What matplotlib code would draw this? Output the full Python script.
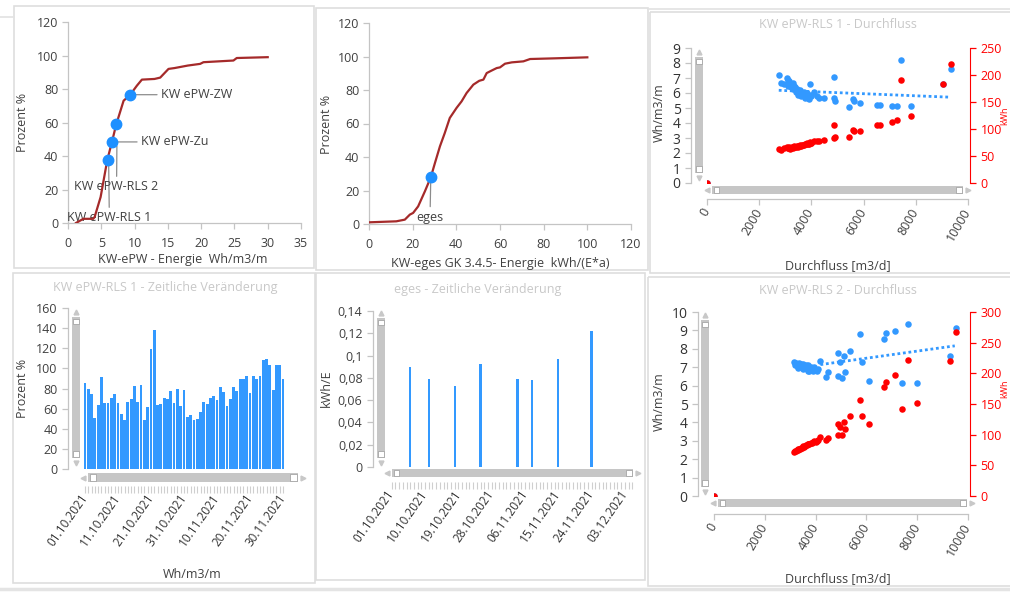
import matplotlib
matplotlib.use("Agg")
import matplotlib.pyplot as plt
import matplotlib.dates as mdates
import pandas as pd
from matplotlib.patches import Rectangle
from matplotlib.lines import Line2D
from matplotlib.transforms import Affine2D

W, H = 1010, 592

# --- KW-ePW cumulative curve (top left)
epw_x = [1.2, 2.3, 3.8, 4.0, 4.9, 5.9, 6.6, 7.25, 8.35, 9.35, 10.35, 11.1, 13.0,
         13.85, 15.1, 16.0, 18.0, 19.85, 20.35, 24.85, 25.35, 30.0]
epw_y = [0, 2.5, 2.5, 3.6, 15.5, 37.6, 48.4, 58.9, 73, 76.6, 82, 85.6, 86,
         86.8, 92, 92.5, 94, 95, 96, 97, 98.5, 99]
epw_pts_x = [5.95, 6.6, 7.25, 9.35]
epw_pts_y = [37.6, 48.4, 58.9, 76.6]
epw_names = ["KW ePW-RLS 1", "KW ePW-Zu", "KW ePW-RLS 2", "KW ePW-ZW"]

# --- KW-eges cumulative curve (top middle)
eges_x = [0, 12.5, 16.4, 18.7, 20.2, 22.5, 25.6, 28.3, 30.2, 32.5, 34.7, 37.0, 40.1,
          42.4, 44.7, 47.8, 50.5, 52.4, 53.9, 56.0, 58.5, 60.0, 62.3, 65.4, 70.7,
          73.8, 85.0, 100.0]
eges_y = [1, 1.6, 2.6, 5.6, 6.6, 10.5, 19.5, 27.9, 36.4, 46.4, 54.3, 63.3, 69.3,
          73.2, 78.2, 83.2, 85.5, 86.2, 90.1, 91.5, 93.1, 93.5, 95.7, 96.5, 97.1,
          98.5, 98.9, 99.5]
eges_pt_x = [28.3]
eges_pt_y = [27.9]

# --- RLS 1 Durchfluss (top right)
flow1 = [2750, 2850, 2950, 3050, 3100, 3150, 3200, 3250, 3300, 3350,
         3400, 3450, 3500, 3550, 3600, 3650, 3700, 3750, 3800, 3850,
         3900, 3950, 4000, 4100, 4200, 4300, 4500, 4850, 4880, 4900,
         5440, 5610, 5650, 5860, 6520, 6620, 7070, 7290, 7450, 7830,
         9045, 9340, 0, 3120, 3180, 3280, 3380, 3480, 3580, 3680,
         3780, 3880, 3980]
wh1 = [7.2, 6.7, 6.6, 7.0, 6.5, 6.8, 6.4, 6.6, 6.3, 6.5,
       6.1, 6.3, 5.9, 6.2, 5.8, 6.0, 6.1, 5.7, 5.9, 6.0,
       5.6, 6.6, 5.8, 6.1, 5.8, 5.7, 5.7, 5.7, 7.07, 5.5,
       5.1, 5.6, 5.45, 5.35, 5.2, 5.2, 5.15, 5.15, 8.2, 5.15,
       6.6, 7.6, 0, 6.9, 6.6, 6.7, 6.4, 6.1, 6.0, 5.9,
       5.9, 5.7, 5.9]
kw1 = [63, 62, 64, 66, 64, 66, 65, 67, 66, 68,
       67, 68, 68, 70, 69, 71, 71, 72, 72, 74,
       73, 76, 75, 77, 78, 78, 80, 84, 107, 86,
       86, 99, 97, 97, 107, 108, 113, 116, 190, 125,
       184, 220, 0, 64, 63, 65, 66, 67, 69, 70,
       72, 73, 75]
trend1_x = [2750, 9340]
trend1_y = [6.18, 5.72]

# --- RLS 2 Durchfluss (bottom right)
flow2 = [3150, 3200, 3220, 3250, 3300, 3320, 3350, 3400, 3420, 3450,
         3500, 3520, 3550, 3600, 3620, 3650, 3700, 3720, 3750, 3800,
         3850, 3900, 3950, 4000, 4050, 4100, 4186, 4423, 4488, 4882,
         4882, 4948, 5039, 5144, 5118, 5341, 5735, 5827, 6089, 6680,
         6785, 7113, 7415, 7638, 8005, 9278, 9541, 0]
wh2 = [7.3, 7.1, 7.25, 7.2, 7.0, 6.95, 7.25, 7.1, 7.2, 7.0,
       7.15, 6.9, 6.95, 7.05, 7.1, 6.9, 7.1, 6.8, 6.8, 7.0,
       6.9, 6.8, 7.0, 6.85, 6.8, 6.9, 7.34, 6.47, 6.74, 7.78,
       6.5, 7.29, 6.44, 6.74, 7.6, 7.87, 8.82, 7.29, 6.24, 8.55,
       8.86, 8.95, 6.15, 9.37, 6.15, 7.61, 9.15, 0]
kw2 = [72, 73, 74, 75, 75, 76, 77, 77, 78, 79,
       80, 81, 80, 82, 83, 83, 84, 85, 85, 86,
       86, 88, 89, 88, 90, 91, 97, 91, 94, 118,
       99, 113, 100, 109, 121, 131, 157, 131, 118, 177,
       186, 197, 142, 221, 152, 220, 268, 0]
trend2_x = [4190, 9480]
trend2_y = [7.14, 8.16]

# --- RLS 1 zeitliche Veraenderung (bottom left)
days4 = pd.date_range("2021-10-01", "2021-11-30", freq="D")
vals4 = [85.8, 80, 74.6, 50.5, 63.4, 91.7, 65.3, 65.3, 70.3, 74.3,
         65.3, 54.8, 48.2, 67, 69.3, 82.8, 66.3, 83.5, 48.8, 62,
         118.8, 138, 63.4, 64.4, 71, 69.3, 78, 66, 79.5, 63,
         78.5, 52, 53.8, 48.8, 49.5, 57, 67, 64.4, 70.3, 73,
         68.6, 81.8, 76.9, 62.7, 69.6, 81.8, 77.9, 89, 89.4, 92.4,
         75.2, 92.4, 89, 92.4, 108, 109.5, 103.3, 78.5, 103.3, 103.3,
         89.4]

# --- eges zeitliche Veraenderung (bottom middle)
days5 = pd.to_datetime(["2021-10-06", "2021-10-11", "2021-10-18", "2021-10-25",
                        "2021-11-04", "2021-11-08", "2021-11-15", "2021-11-24"])
vals5 = [0.0897, 0.0793, 0.0724, 0.0927, 0.0793, 0.0784, 0.0966, 0.1217]
ticks5 = pd.date_range("2021-10-01", "2021-12-03", freq="9D")
yticks5 = [0, 0.02, 0.04, 0.06, 0.08, 0.10, 0.12, 0.14]
ylabels5 = ["0", "0,02", "0,04", "0,06", "0,08", "0,1", "0,12", "0,14"]

DARKRED = "#a52a2a"
BLUE = "#3399ff"
RED = "#ff0000"
AXGREY = "#c4c4c4"
TXT = "#404040"
TITLE = "#c8c8c8"

plt.rcParams["font.family"] = ["Open Sans", "DejaVu Sans"]
fig = plt.figure(figsize=(W / 100, H / 100), dpi=100)
T = Affine2D().scale(1 / W, -1 / H).translate(0, 1) + fig.transFigure


def add_ax(x0, y0, x1, y1):
    return fig.add_axes([x0 / W, 1 - y1 / H, (x1 - x0) / W, (y1 - y0) / H])


def ptext(x, y, s, **kw):
    kw.setdefault("ha", "center")
    kw.setdefault("va", "center")
    kw.setdefault("color", TXT)
    kw.setdefault("fontsize", 9)
    return fig.text(x, y, s, transform=T, **kw)


def frame(x0, y0, x1, y1, c="#dedede"):
    fig.add_artist(Rectangle((x0, y0), x1 - x0, y1 - y0, transform=T,
                             fill=False, ec=c, lw=1.2))


def scroll(x0, y0, x1, y1):
    fig.add_artist(Rectangle((x0, y0), x1 - x0, y1 - y0, transform=T,
                             fc="#c6c6c6", ec="none"))
    s = min(x1 - x0, y1 - y0) - 2.5
    if (y1 - y0) > (x1 - x0):
        spots = [(x0 + 1.2, y0 + 1.5), (x0 + 1.2, y1 - 1.5 - s)]
        cx = (x0 + x1) / 2
        arrows = [(cx, y0 - 5, "^"), (cx, y1 + 5, "v")]
    else:
        spots = [(x0 + 1.5, y0 + 1.2), (x1 - 1.5 - s, y0 + 1.2)]
        cy = (y0 + y1) / 2
        arrows = [(x0 - 5, cy, "<"), (x1 + 5, cy, ">")]
    for sx, sy in spots:
        fig.add_artist(Rectangle((sx, sy), s, s, transform=T, fc="white",
                                 ec="#9a9a9a", lw=0.5))
    for ax_, ay_, m in arrows:
        fig.add_artist(Line2D([ax_], [ay_], transform=T, marker=m, ms=3.5,
                              color="#c8c8c8", ls="none"))


def base_style(ax, labelsize=9):
    ax.spines["top"].set_visible(False)
    ax.spines["right"].set_visible(False)
    for s in ["left", "bottom"]:
        ax.spines[s].set_color(AXGREY)
        ax.spines[s].set_linewidth(0.9)
    ax.tick_params(colors=AXGREY, labelcolor=TXT, length=4, width=0.9,
                   labelsize=labelsize)
    ax.patch.set_alpha(0)


# panel frames and separators
frame(14, 6, 314, 268)
frame(316, 8, 648, 270)
frame(650, 12, 1015, 273)
frame(13, 273, 315, 583)
frame(316, 273, 645, 580)
frame(648, 277, 1015, 586)
fig.add_artist(Line2D([0, 14 / W], [1 - 17 / H] * 2, color="#e2e2e2", lw=1.2))
fig.add_artist(Line2D([648 / W, 1], [1 - 9 / H] * 2, color="#e2e2e2", lw=1.2))
fig.add_artist(Line2D([0, 1], [1 - 589 / H] * 2, color="#e4e4e4", lw=2.5))

# ---------------- top left
ax1 = add_ax(68, 22, 301, 223)
base_style(ax1)
ax1.plot(epw_x, epw_y, color=DARKRED, lw=1.6, zorder=6)
ax1.plot(epw_pts_x, epw_pts_y, "o", color="#1e90ff", ms=7.5, zorder=7)
ax1.set_xlim(0, 35)
ax1.set_ylim(0, 120)
ax1.set_xticks(range(0, 36, 5))
ax1.set_yticks(range(0, 121, 20))
ax1.tick_params(axis="y", pad=3)
ax1.tick_params(axis="x", pad=6)
lbl_pos = [(6.2, 3.0, 6.1, 37.6, "center"), (11.0, 48.4, 6.6, 48.4, "left"),
           (7.3, 21.5, 7.35, 48.4, "center"), (14.0, 76.6, 9.35, 76.6, "left")]
for name, (tx, ty, px_, py_, ha) in zip(epw_names, lbl_pos):
    rel = (0.0, 0.5) if ha == "left" else (0.5, 1.0)
    ax1.annotate(name, xy=(px_, py_), xytext=(tx, ty), ha=ha, va="center",
                 fontsize=9, color=TXT, zorder=3,
                 arrowprops=dict(arrowstyle="-", color="#8c8c8c", lw=0.9,
                                 relpos=rel, shrinkA=1, shrinkB=3))
ptext(23, 122, "Prozent %", rotation=90)
ptext(183, 260, "KW-ePW - Energie  Wh/m3/m")

# ---------------- top middle
ax2 = add_ax(369, 23, 631, 224)
base_style(ax2)
ax2.plot(eges_x, eges_y, color=DARKRED, lw=1.6, zorder=6)
ax2.plot(eges_pt_x, eges_pt_y, "o", color="#1e90ff", ms=7.5, zorder=7)
ax2.set_xlim(0, 120)
ax2.set_ylim(0, 120)
ax2.set_xticks(range(0, 121, 20))
ax2.set_yticks(range(0, 121, 20))
ax2.tick_params(axis="y", pad=3)
ax2.tick_params(axis="x", pad=6)
ax2.annotate("eges", xy=(eges_pt_x[0], eges_pt_y[0]), xytext=(28, 4),
             ha="center", va="center", fontsize=9, color=TXT, zorder=3,
             arrowprops=dict(arrowstyle="-", color="#8c8c8c", lw=0.9,
                             relpos=(0.5, 1.0), shrinkA=1, shrinkB=3))
ptext(326, 124, "Prozent %", rotation=90)
ptext(500, 264, "KW-eges GK 3.4.5- Energie  kWh/(E*a)")


def flow_panel(box, flow, wh, kw, tx, ty, ymax, kmax, out_l, out_b):
    ax = add_ax(*box)
    base_style(ax)
    ax.spines["left"].set_position(("outward", out_l * 0.72))
    ax.spines["bottom"].set_position(("outward", out_b * 0.72))
    ax.scatter(flow, wh, s=22, color=BLUE, lw=0, zorder=3)
    ax.plot(tx, ty, ls=(0, (1, 1)), color=BLUE, lw=2, zorder=2)
    ax.set_xlim(0, 10000)
    ax.set_ylim(0, ymax)
    ax.set_yticks(range(0, ymax + 1))
    ax.set_xticks(range(0, 10001, 2000))
    ax.tick_params(axis="y", labelsize=10, labelcolor="#333333")
    for t in ax.get_xticklabels():
        t.set_rotation(60)
        t.set_ha("right")
        t.set_va("center")
        t.set_rotation_mode("anchor")
    axr = ax.twinx()
    for s in ["left", "top", "bottom"]:
        axr.spines[s].set_visible(False)
    axr.spines["right"].set_color(RED)
    axr.spines["right"].set_position(("outward", 1.5))
    axr.scatter(flow, kw, s=22, color=RED, lw=0, zorder=3)
    axr.set_ylim(0, kmax)
    axr.set_yticks(range(0, kmax + 1, 50))
    axr.tick_params(colors=RED, labelcolor=RED, length=4, width=0.9,
                    labelsize=9)
    return ax


# ---------------- top right
flow_panel((707, 48, 968, 183), flow1, wh1, kw1, trend1_x, trend1_y, 9, 250, 16, 16)
scroll(695, 57, 703, 173)
scroll(712, 186, 963, 194)
ptext(838, 25, "KW ePW-RLS 1 - Durchfluss", color=TITLE)
ptext(659, 113, "Wh/m3/m", rotation=90)
ptext(838, 266, "Durchfluss [m3/d]")
ptext(1005, 115.5, "kWh", rotation=90, color=RED, fontsize=6.5)

# ---------------- bottom right
flow_panel((714, 312, 968, 496), flow2, wh2, kw2, trend2_x, trend2_y, 10, 300, 16, 18)
scroll(701, 320, 709, 487)
scroll(718, 499, 967, 507)
ptext(838, 290, "KW ePW-RLS 2 - Durchfluss", color=TITLE)
ptext(659, 402, "Wh/m3/m", rotation=90)
ptext(838, 579, "Durchfluss [m3/d]")
ptext(1005, 389, "kWh", rotation=90, color=RED, fontsize=6.5)


def time_axis(ax, out_b):
    ax.spines["bottom"].set_visible(False)
    ax.spines["bottom"].set_position(("outward", out_b * 0.72))
    ax.xaxis.set_major_formatter(mdates.DateFormatter("%d.%m.%Y"))
    ax.xaxis.set_minor_locator(mdates.DayLocator())
    ax.tick_params(axis="x", which="both", length=5, width=0.8, colors="#cfcfcf",
                   labelcolor="#333333", labelsize=8.5, pad=2)
    for t in ax.get_xticklabels():
        t.set_rotation(55)
        t.set_ha("right")
        t.set_va("center")
        t.set_rotation_mode("anchor")


# ---------------- bottom left
ax4 = add_ax(83, 308, 285, 469)
base_style(ax4)
ax4.spines["left"].set_position(("outward", 15 * 0.72))
ax4.bar(days4, vals4, width=0.85, color=BLUE, lw=0)
ax4.set_xlim(days4[0] - pd.Timedelta(hours=14), days4[-1] + pd.Timedelta(hours=14))
ax4.set_ylim(0, 160)
ax4.set_yticks(range(0, 161, 20))
ax4.set_xticks(days4[::10])
time_axis(ax4, 17)
scroll(72, 317, 80, 458)
scroll(88, 473, 298, 482)
ptext(165, 287, "KW ePW-RLS 1 - Zeitliche Veränderung", color=TITLE)
ptext(23, 388, "Prozent %", rotation=90)
ptext(192, 575, "Wh/m3/m")

# ---------------- bottom middle
ax5 = add_ax(390, 311, 633, 467)
base_style(ax5)
ax5.spines["left"].set_position(("outward", 17 * 0.72))
ax5.bar(days5, vals5, width=0.6, color=BLUE, lw=0)
ax5.set_xlim(ticks5[0] - pd.Timedelta(hours=11), ticks5[0] + pd.Timedelta(days=65.2))
ax5.set_ylim(0, 0.14)
ax5.set_yticks(yticks5)
ax5.set_yticklabels(ylabels5)
ax5.set_xticks(ticks5)
time_axis(ax5, 15)
scroll(377, 318, 385, 458)
scroll(392, 469, 633, 477)
ptext(478, 289, "eges - Zeitliche Veränderung", color=TITLE)
ptext(326, 388, "kWh/E", rotation=90)

fig.savefig("out.png", dpi=100)
